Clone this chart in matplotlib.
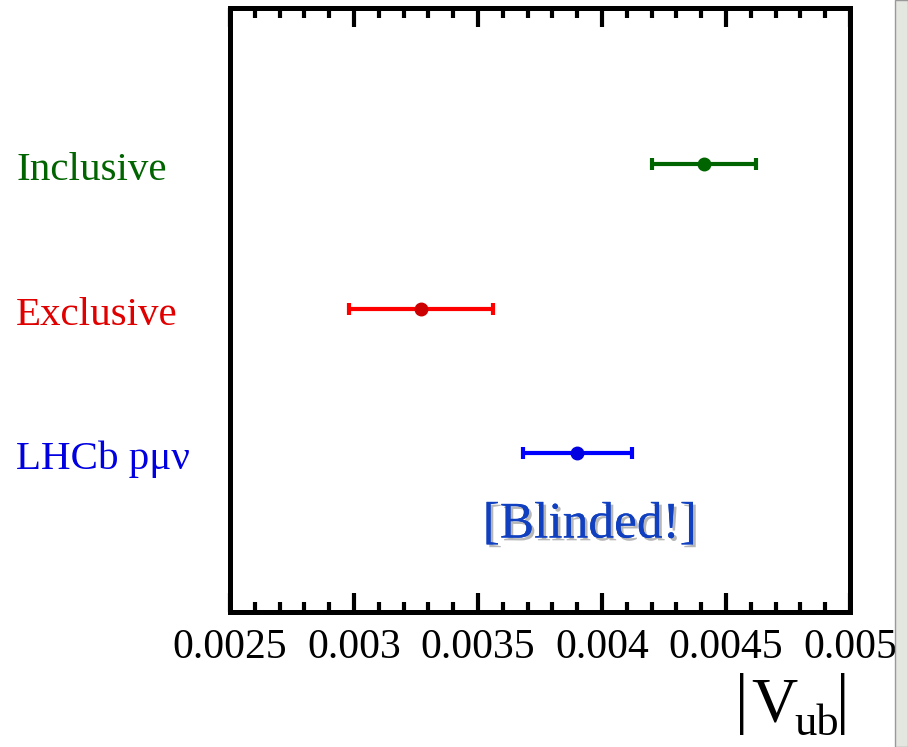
import matplotlib.pyplot as plt
import matplotlib.patheffects as pe
from matplotlib.patches import Rectangle
from matplotlib.ticker import MultipleLocator

plt.rcParams['font.family'] = ['Liberation Serif', 'DejaVu Serif']

# measurements of |Vub|
labels = ['Inclusive', 'Exclusive', 'LHCb p\u03bc\u03bd']
values = [0.00441, 0.00327, 0.00390]
errors = [0.00021, 0.00029, 0.00022]
ypos = [3.1, 2.1, 1.1]
line_colors = ['#006400', '#ff0000', '#0000ff']
marker_colors = ['#006400', '#cc0000', '#0000e0']
text_colors = ['#006400', '#e00000', '#0000e0']

tick_vals = [0.0025, 0.003, 0.0035, 0.004, 0.0045, 0.005]
tick_labels = ['0.0025', '0.003', '0.0035', '0.004', '0.0045', '0.005']

W, H = 908, 747
fig = plt.figure(figsize=(W / 100, H / 100), dpi=100)
ax = fig.add_axes([230 / W, 1 - 612 / H, 620 / W, 604 / H])

for v, e, y, lc, mc in zip(values, errors, ypos, line_colors, marker_colors):
    ax.errorbar(v, y, xerr=e, fmt='o', color=lc, mfc=mc, mec=mc, ms=9,
                elinewidth=3, capsize=4, capthick=3)

for lab, y, c in zip(labels, ypos, text_colors):
    ax.text(-0.345, y - 0.045, lab, transform=ax.get_yaxis_transform(),
            color=c, fontsize=29.5, ha='left', va='center')

ax.text(0.00395, 0.6, '[Blinded!]', color='#1040c0', fontsize=37,
        ha='center', va='center',
        path_effects=[pe.withSimplePatchShadow(offset=(2, -2), shadow_rgbFace='#888888', alpha=0.6),
                      pe.Normal()])

ax.set_xlim(0.0025, 0.005)
ax.set_ylim(0, 4.18)
ax.set_xticks(tick_vals)
ax.set_xticklabels(tick_labels, fontsize=30)
ax.xaxis.set_minor_locator(MultipleLocator(0.0001))
ax.set_yticks([])
ax.tick_params(axis='x', which='both', direction='in', top=True, bottom=True, width=3, pad=12)
ax.tick_params(axis='x', which='major', length=14)
ax.tick_params(axis='x', which='minor', length=7)
for s in ax.spines.values():
    s.set_linewidth(3.6)

# axis title |V_ub|, built from pieces to get the large subscript
fig.text(742 / W, 1 - 704 / H, '|', fontsize=48, ha='center', va='center')
fig.text(751 / W, 1 - 722 / H, 'V', fontsize=46, ha='left', va='baseline')
fig.text(794 / W, 1 - 735 / H, 'ub', fontsize=32, ha='left', va='baseline')
fig.text(843 / W, 1 - 704 / H, '|', fontsize=48, ha='center', va='center')

# slide background strip on the right edge
fig.patches.append(Rectangle((895 / W, 0), 13 / W, 1, transform=fig.transFigure,
                             facecolor='#e4e6e0', edgecolor='#999999', linewidth=1))

fig.savefig('out.png', dpi=100)
